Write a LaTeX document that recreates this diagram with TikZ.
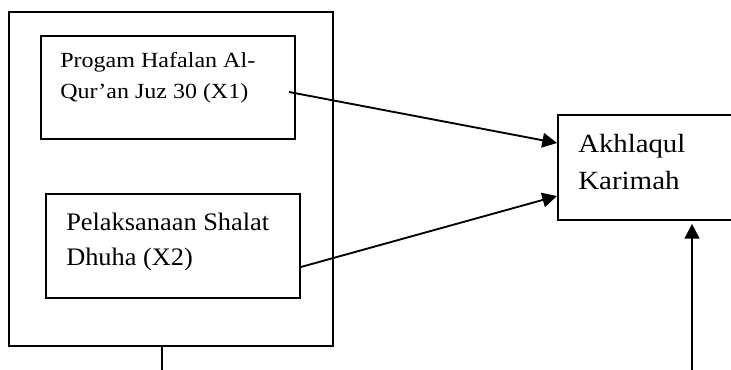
\documentclass[tikz,border=0pt]{standalone}
\usepackage{fontspec}
\usepackage{graphicx}
\usetikzlibrary{arrows.meta,calc}
\newfontfamily\lblfont{Liberation Serif}
% set a line at its natural height, stretched to a given width
\newcommand\spanto[2]{\resizebox{#1}{\height}{#2}}
\begin{document}
\begin{tikzpicture}[x=0.75pt,y=-0.75pt,
  frame/.style={draw, line width=1.4pt, inner sep=0pt, anchor=north west},
  link/.style={line width=1.4pt, -{Triangle[length=11pt,width=11pt]}},
  plain/.style={line width=1.4pt},
  txtA/.style={font=\lblfont\fontsize{16.2pt}{20pt}\selectfont, anchor=base west, inner sep=0pt},
  txtB/.style={font=\lblfont\fontsize{18.9pt}{22pt}\selectfont, anchor=base west, inner sep=0pt},
  txtC/.style={font=\lblfont\fontsize{19.7pt}{24pt}\selectfont, anchor=base west, inner sep=0pt}]
\useasboundingbox (0,0) rectangle (731,369);
\clip (0,0) rectangle (731,369);

% boxes
\node[frame, minimum width=243pt, minimum height=250.5pt] (outer) at (8,11) {};
\node[frame, minimum width=190.5pt, minimum height=77.25pt] (xa) at (40,35) {};
\node[frame, minimum width=190.5pt, minimum height=78pt] (xb) at (45,193) {};
\node[frame, minimum width=152.25pt, minimum height=78.75pt] (yb) at (557,114) {};

% labels
\node[txtA] (xa1) at (60,67.7) {\spanto{146.25pt}{Progam Hafalan Al-}};
\node[txtA] (xa2) at (60,98.3) {\spanto{141pt}{Qur’an Juz 30 (X1)}};
\node[txtB] (xb1) at (66,230) {\spanto{152.25pt}{Pelaksanaan Shalat}};
\node[txtB] (xb2) at (66,265.7) {\spanto{95pt}{Dhuha (X2)}};
\node[txtC] (yb1) at (578,152) {\spanto{80.25pt}{Akhlaqul}};
\node[txtC] (yb2) at (578,189) {\spanto{76pt}{Karimah}};

% connector ends
\coordinate (sa) at (289,92);
\coordinate (sb) at (xb.east |- 0,267);
\coordinate (ea) at (yb.north west |- 0,143);
\coordinate (eb) at (yb.north west |- 0,196);
\coordinate (da) at (outer.south -| 162,0);
\coordinate (fa) at (162,380);
\coordinate (fb) at (692,380);
\coordinate (tb) at ($(yb.south -| fb)+(0,3)$);

% connectors
\draw[link] (sa) -- (ea);
\draw[link] (sb) -- (eb);
\draw[plain] (da) -- (fa);
\draw[link] (fb) -- (tb);
\end{tikzpicture}
\end{document}
